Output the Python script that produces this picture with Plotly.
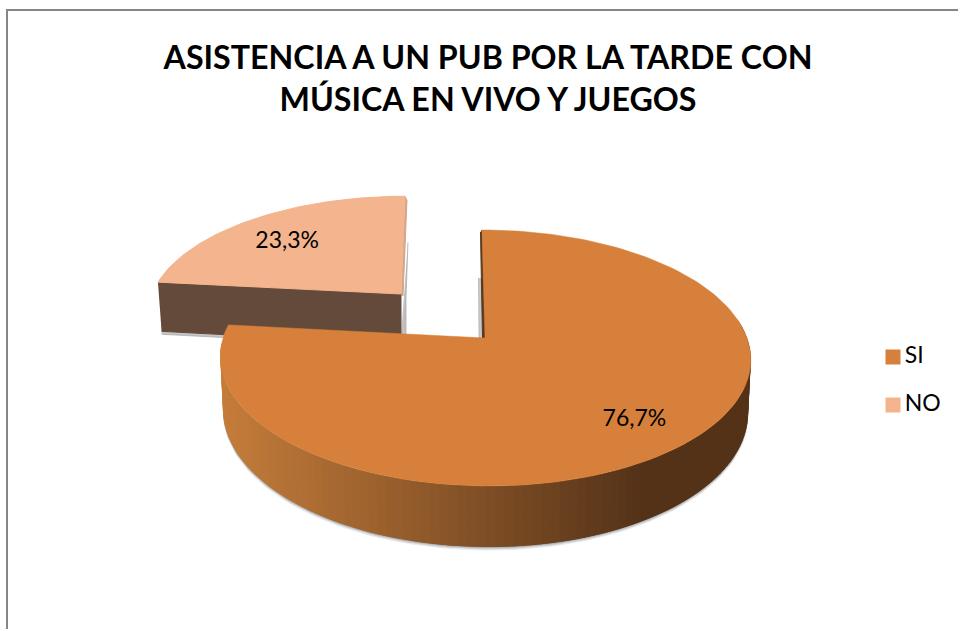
import numpy as np
import plotly.graph_objects as go

# Chart content
title_lines = ["ASISTENCIA A UN PUB POR LA TARDE CON", "MÚSICA EN VIVO Y JUEGOS"]
categories = ["SI", "NO"]
shares = [76.7, 23.3]
labels = ["76,7%", "23,3%"]
top_colors = ["#D6803B", "#F4B48E"]
no_wall_color = "#644A3A"

FONT = "Lato"
WIDTH, HEIGHT = 958, 629
TILT = 0.156  # perspective strength of the disc


def project(theta, radius, centre, a, b, skew, drop=0.0, shrink=1.0):
    """Map a polar position on the tilted disc to canvas pixels."""
    u = radius * np.sin(theta)
    v = radius * np.cos(theta)
    w = 1 + TILT * v
    x = centre[0] + a * shrink * u / w + skew * v / w
    y = centre[1] - b * v / w + drop / w
    return x, y


def polygon(xs, ys, color, line=None, width=1):
    return go.Scatter(
        x=list(xs), y=list(ys), mode="lines", fill="toself", fillcolor=color,
        line=dict(color=line or color, width=width), hoverinfo="skip", showlegend=False,
    )


def mix(c0, c1, t):
    t = float(np.clip(t, 0, 1))
    return "rgb(%d,%d,%d)" % tuple(round(p + (q - p) * t) for p, q in zip(c0, c1))


fig = go.Figure()

# The first slice runs clockwise from twelve o'clock, the second closes the circle
sweep_si = 2 * np.pi * shares[0] / sum(shares)
arc_si = np.linspace(0, sweep_si, 160)
arc_no = np.linspace(sweep_si, 2 * np.pi, 60)

si_geo = dict(centre=(485, 338), a=262.0, b=124.9, skew=-3.5)
si_side = dict(drop=51.5, shrink=0.99)
no_geo = dict(centre=(401, 294), a=249.0, b=113.0, skew=4.6)
no_side = dict(drop=50.0, shrink=0.985)

# --- NO slice, exploded towards the back ---
bx, by = project(arc_no, 1, **no_geo, **no_side)
ax0, ay0 = project(0.0, 0, **no_geo, **no_side)
tx, ty = project(arc_no, 1, **no_geo)
cx0, cy0 = project(0.0, 0, **no_geo)

# soft shadows below the wall and beside the cut edge
fig.add_trace(polygon([bx[0], ax0 + 3, ax0 + 3, bx[0]], [by[0] - 8, ay0 - 8, ay0 + 3, by[0] + 3],
                      "rgba(150,150,150,0.55)"))
fig.add_trace(polygon([tx[-1] + 3, cx0 + 5, cx0 + 5, cx0],
                      [ty[-1] + 46, cy0 + 3, cy0 + 42, cy0 + 42], "rgba(165,165,165,0.7)"))
fig.add_trace(polygon([tx[-1], tx[-1] + 2, cx0 + 2, cx0], [ty[-1], ty[-1] + 4, cy0 + 2, cy0], "#D2A68A"))

# wall below the left cut edge
fig.add_trace(polygon(
    [tx[0], cx0, ax0, bx[0]], [ty[0], cy0, ay0, by[0]], no_wall_color))
fig.add_trace(polygon(np.r_[cx0, tx, cx0], np.r_[cy0, ty, cy0], top_colors[1]))

# --- SI slice ---
# grey halo under the rim
wall_from = np.searchsorted(arc_si, np.radians(80))
wall_to = np.searchsorted(arc_si, np.radians(266))
bx, by = project(arc_si, 1, **si_geo, **si_side)
for grow, alpha in ((3.5, 0.18), (2.2, 0.3), (1.0, 0.45)):
    fig.add_trace(polygon(np.r_[bx[wall_from:wall_to], bx[wall_from:wall_to][::-1]],
                          np.r_[by[wall_from:wall_to] + grow, by[wall_from:wall_to][::-1] - 8],
                          f"rgba(130,135,140,{alpha})", width=0))

# sliver of the cut face next to twelve o'clock, with its shadow
tx, ty = project(arc_si, 1, **si_geo)
cx1, cy1 = project(0.0, 0, **si_geo)
fig.add_trace(polygon([tx[0], cx1, cx1 - 6, tx[0] - 3.5], [ty[0] + 48, cy1, cy1, ty[0] + 48],
                      "rgba(165,165,165,0.6)"))
fig.add_trace(polygon([tx[0], cx1, cx1 - 2.5, tx[0] - 1.5], [ty[0], cy1, cy1, ty[0] + 2], "#5A3A1E"))

# outer wall, shaded across its width; strips overlap so no seams show
light = (196, 124, 58)
dark = (84, 50, 24)
for i in range(wall_from, wall_to):
    pair = arc_si[i:i + 3]
    tpx, tpy = project(pair, 1, **si_geo)
    bpx, bpy = project(pair, 1, **si_geo, **si_side)
    shade = mix(light, dark, (tpx.mean() - 222) / (640 - 222))
    fig.add_trace(polygon(np.r_[tpx, bpx[::-1]], np.r_[tpy, bpy[::-1]], shade, width=0))

fig.add_trace(polygon(np.r_[cx1, tx, cx1], np.r_[cy1, ty, cy1], top_colors[0], width=0.5))

# Percentage labels at each slice's mid angle
mid_si = sweep_si / 2
mid_no = (sweep_si + 2 * np.pi) / 2
lx_si, ly_si = project(mid_si, 0.78, **si_geo)
lx_no, ly_no = project(mid_no, 0.76, **no_geo)
fig.add_trace(go.Scatter(
    x=[lx_si - 3, lx_no], y=[ly_si + 3, ly_no + 7], mode="text", text=labels,
    textposition="middle center", textfont=dict(family=FONT, size=23, color="#000000"),
    hoverinfo="skip", showlegend=False,
))

# Legend keys with their names beside them
key_x = 893
key_y = [357, 405]
for name, color, ky in zip(categories, top_colors, key_y):
    fig.add_trace(go.Scatter(
        x=[key_x], y=[ky], mode="markers+text", name=name, text=["\u200a" + name],
        textposition="middle right", textfont=dict(family=FONT, size=23, color="#000000"),
        marker=dict(symbol="square", size=15, color=color), hoverinfo="skip", showlegend=False,
    ))

fig.update_layout(
    width=WIDTH, height=HEIGHT, autosize=False,
    margin=dict(l=0, r=0, t=0, b=0),
    paper_bgcolor="#FFFFFF", plot_bgcolor="#FFFFFF",
    xaxis=dict(range=[0, WIDTH], visible=False, fixedrange=True),
    yaxis=dict(range=[HEIGHT, 0], visible=False, fixedrange=True),
    title=dict(
        text="<br>".join(f"<b>{t}</b>" for t in title_lines),
        x=488 / WIDTH, xanchor="center", y=1 - 69 / HEIGHT, yanchor="middle",
        font=dict(family=FONT, size=32.2, color="#000000"),
    ),
    showlegend=False,
    shapes=[
        dict(type="line", xref="x", yref="y", x0=7, x1=7, y0=10, y1=HEIGHT, line=dict(color="#868686", width=2)),
        dict(type="line", xref="x", yref="y", x0=6, x1=WIDTH, y0=10, y1=10, line=dict(color="#868686", width=2)),
    ],
)

fig.write_html("out.html")
